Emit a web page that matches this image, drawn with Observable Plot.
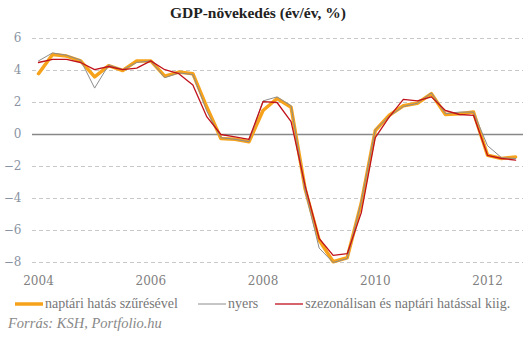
<!DOCTYPE html>
<html>
<head>
<meta charset="utf-8">
<script src="https://cdn.jsdelivr.net/npm/d3@7"></script>
<script src="https://cdn.jsdelivr.net/npm/@observablehq/plot@0.6"></script>
<style>
  html, body { margin: 0; padding: 0; background: #fff; }
  body { width: 531px; height: 342px; position: relative; overflow: hidden; font-family: "Liberation Serif", serif; }
  #title { position: absolute; top: 4px; left: 0; width: 516px; text-align: center; font-weight: bold; font-size: 15.5px; color: #222; }
  #chart { position: absolute; top: 24px; left: 0; }
  #legend { position: absolute; top: 296px; left: 15px; display: flex; align-items: center; font-size: 14px; color: #777; white-space: nowrap; }
  #legend .item { display: flex; align-items: center; }
  #legend svg { display: block; margin-right: 2px; }
  #caption { position: absolute; top: 315px; left: 8px; font-style: italic; font-size: 14.5px; color: #888; }
  #chart svg text { font-family: "DejaVu Serif", serif; }
</style>
</head>
<body>
<div id="title">GDP-növekedés (év/év, %)</div>
<div id="chart"></div>
<div id="legend"></div>
<div id="caption">Forrás: KSH, Portfolio.hu</div>
<script>
// Quarterly data 2004 Q1 – 2012 Q3 (year-on-year GDP growth, %)
const quarters = d3.range(35).map(i => 2004 + i * 0.25);
const naptari = [3.8, 5.0, 4.9, 4.6, 3.6, 4.3, 4.0, 4.6, 4.6, 3.65, 3.9, 3.8,
  1.7, -0.25, -0.3, -0.45, 1.5, 2.25, 1.7, -3.4, -6.6, -7.95, -7.7, -4.3,
  0.25, 1.2, 1.8, 1.95, 2.55, 1.25, 1.3, 1.4, -1.3, -1.5, -1.4];
const nyers = [4.6, 5.1, 4.95, 4.65, 2.9, 4.35, 4.05, 4.5, 4.6, 3.55, 3.85, 3.75,
  1.45, -0.2, -0.3, -0.45, 2.1, 2.35, 1.8, -3.5, -7.1, -8.0, -7.75, -4.2,
  0.3, 1.15, 1.75, 1.95, 2.6, 1.3, 1.4, 1.4, -0.7, -1.45, -1.5];
const szezonalis = [4.5, 4.7, 4.7, 4.5, 4.05, 4.25, 4.05, 4.15, 4.6, 4.05, 3.8, 3.1,
  1.1, 0.0, -0.15, -0.3, 2.05, 2.0, 0.8, -3.2, -6.5, -7.55, -7.45, -4.9,
  -0.2, 1.1, 2.2, 2.1, 2.35, 1.5, 1.25, 1.2, -1.3, -1.5, -1.6];

const seriesNames = ["naptári hatás szűrésével", "nyers", "szezonálisan és naptári hatással kiig."];
const seriesColors = ["#f7a21b", "#8c8c8c", "#c0121b"];
const seriesWidths = [3.5, 1, 1.3];
const xTicks = [2004, 2006, 2008, 2010, 2012];
const yTicks = [-8, -6, -4, -2, 0, 2, 4, 6];

const toRows = vals => vals.map((v, i) => ({x: quarters[i], y: v}));

const plot = Plot.plot({
  width: 531,
  height: 268,
  marginLeft: 32,
  marginRight: 8,
  marginTop: 14,
  marginBottom: 30,
  style: {fontFamily: "'DejaVu Serif', serif", fontSize: "12px", background: "transparent"},
  x: {domain: [2003.893, 2012.641], ticks: xTicks, tickFormat: d => String(d)},
  y: {domain: [-8, 6], ticks: yTicks},
  marks: [
    Plot.gridY(yTicks.filter(d => d !== 0), {stroke: "#c8c8c8", strokeOpacity: 1, strokeDasharray: "4,3", strokeWidth: 1}),
    Plot.ruleY([0], {stroke: "#888", strokeWidth: 1.3}),
    Plot.axisY(yTicks, {tickSize: 0, tickPadding: 11, fill: "#8a93a3", label: null}),
    Plot.axisX(xTicks, {tickSize: 0, tickPadding: 14, fill: "#808080", label: null, tickFormat: d => String(d)}),
    Plot.line(toRows(naptari), {x: "x", y: "y", stroke: seriesColors[0], strokeWidth: seriesWidths[0], strokeLinejoin: "round"}),
    Plot.line(toRows(nyers), {x: "x", y: "y", stroke: seriesColors[1], strokeWidth: seriesWidths[1]}),
    Plot.line(toRows(szezonalis), {x: "x", y: "y", stroke: seriesColors[2], strokeWidth: seriesWidths[2]})
  ]
});
document.getElementById("chart").appendChild(plot);

// Legend
const legend = document.getElementById("legend");
const gaps = [0, 20, 17];
seriesNames.forEach((name, i) => {
  const item = document.createElement("div");
  item.className = "item";
  item.style.marginLeft = gaps[i] + "px";
  const sw = d3.create("svg").attr("width", 28).attr("height", 10);
  sw.append("line").attr("x1", 0).attr("x2", 28).attr("y1", 5).attr("y2", 5)
    .attr("stroke", seriesColors[i]).attr("stroke-width", seriesWidths[i]);
  item.appendChild(sw.node());
  const t = document.createElement("span");
  t.textContent = name;
  item.appendChild(t);
  legend.appendChild(item);
});
</script>
</body>
</html>
